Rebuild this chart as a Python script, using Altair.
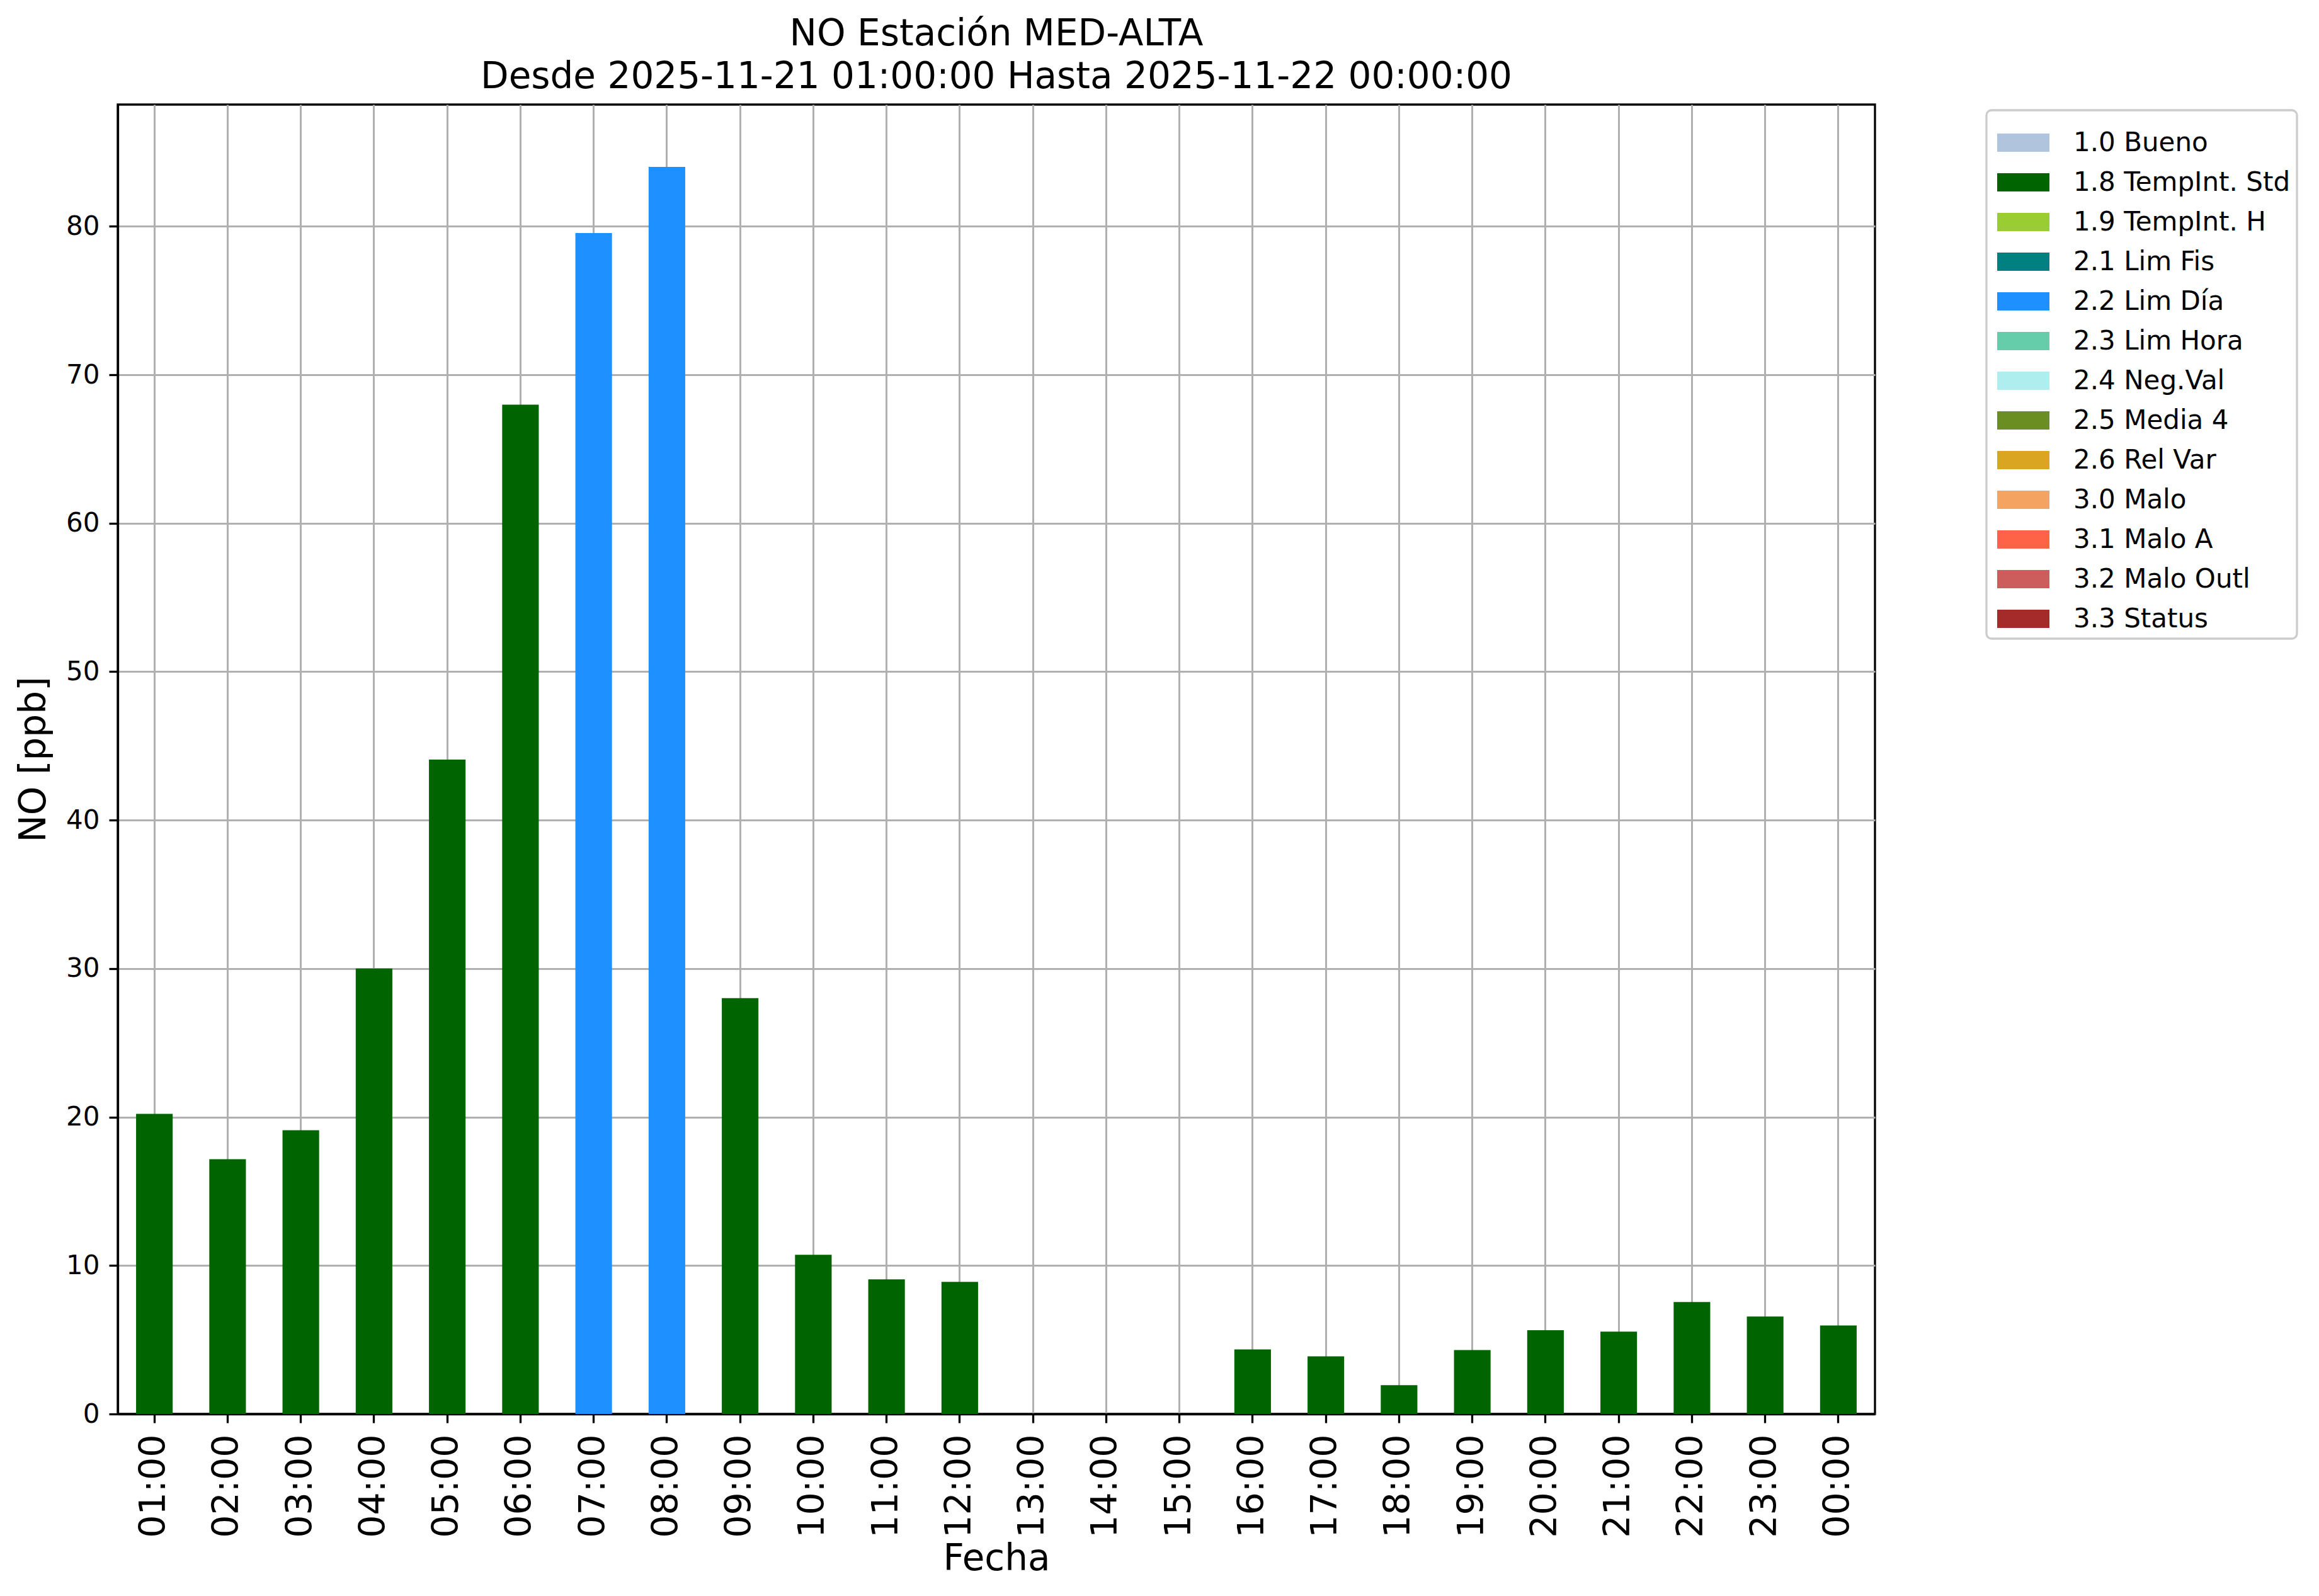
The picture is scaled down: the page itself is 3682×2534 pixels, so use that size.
import altair as alt
import pandas as pd

# ---- data ----
horas = ["01:00", "02:00", "03:00", "04:00", "05:00", "06:00", "07:00", "08:00",
         "09:00", "10:00", "11:00", "12:00", "13:00", "14:00", "15:00", "16:00",
         "17:00", "18:00", "19:00", "20:00", "21:00", "22:00", "23:00", "00:00"]
valores = [20.21, 17.16, 19.11, 30.0, 44.08, 67.98, 79.55, 84.0,
           28.01, 10.72, 9.07, 8.90, None, None, None, 4.35,
           3.88, 1.94, 4.31, 5.64, 5.55, 7.54, 6.56, 5.96]
banderas = ["1.8 TempInt. Std"] * 6 + ["2.2 Lim Día"] * 2 + ["1.8 TempInt. Std"] * 16

categorias = ["1.0 Bueno", "1.8 TempInt. Std", "1.9 TempInt. H", "2.1 Lim Fis",
              "2.2 Lim Día", "2.3 Lim Hora", "2.4 Neg.Val", "2.5 Media 4",
              "2.6 Rel Var", "3.0 Malo", "3.1 Malo A", "3.2 Malo Outl", "3.3 Status"]
colores = ["#B0C4DE", "#006400", "#9ACD32", "#008080", "#1E90FF", "#66CDAA",
           "#AFEEEE", "#6B8E23", "#DAA520", "#F4A460", "#FF6347", "#CD5C5C", "#A52A2A"]

y_ticks = [0, 10, 20, 30, 40, 50, 60, 70, 80]
y_max = 88.2

titulo = ["NO Estación MED-ALTA",
          "Desde 2025-11-21 01:00:00 Hasta 2025-11-22 00:00:00"]

df = pd.DataFrame({"Hora": horas, "NO": valores, "Flag": banderas})

FONT = "DejaVu Sans"
W, H = 2790, 2079

chart = alt.Chart(df).mark_bar().encode(
    x=alt.X(
        "Hora:N",
        sort=horas,
        scale=alt.Scale(domain=horas, paddingInner=0.5, paddingOuter=0.25),
        axis=alt.Axis(
            title="Fecha",
            labelAngle=270,
            labelFontSize=57,
            labelPadding=18,
            bandPosition=0.5,
            titleFontSize=58,
            titleX=W / 2,
            titleY=247,
            titleBaseline="alphabetic",
            titleAlign="center",
        ),
    ),
    y=alt.Y(
        "NO:Q",
        scale=alt.Scale(domain=[0, y_max], nice=False, zero=True),
        axis=alt.Axis(
            title="NO [ppb]",
            values=y_ticks,
            labelFontSize=42,
            labelPadding=15,
            titleFontSize=58,
            titleAngle=270,
            titleX=-133,
            titleY=H / 2,
            titleBaseline="middle",
            titleAlign="center",
        ),
    ),
    color=alt.Color(
        "Flag:N",
        title=None,
        scale=alt.Scale(domain=categorias, range=colores),
        legend=alt.Legend(
            orient="none",
            legendX=2967,
            legendY=9,
            symbolType="M-1,-0.35L1,-0.35L1,0.35L-1,0.35Z",
            symbolSize=6889,
            symbolStrokeWidth=0,
            symbolOpacity=1,
            symbolOffset=7,
            labelFontSize=42,
            labelFont=FONT,
            labelColor="black",
            labelOffset=38,
            labelLimit=0,
            labelExpr="datum.label + ' '",
            rowPadding=0,
            padding=10,
            strokeColor="#cccccc",
            fillColor="white",
            cornerRadius=8,
        ),
    ),
).properties(
    width=W,
    height=H,
    title=alt.TitleParams(
        text=titulo,
        fontSize=58,
        font=FONT,
        fontWeight="normal",
        anchor="middle",
        frame="group",
        lineHeight=68,
        baseline="bottom",
        offset=13,
        dy=57,
        color="black",
    ),
    autosize=alt.AutoSizeParams(type="none"),
    padding={"left": 179, "top": 158, "right": 697, "bottom": 281},
).configure(
    font=FONT,
    background="white",
).configure_view(
    stroke="black",
    strokeWidth=3.3,
).configure_axis(
    labelFont=FONT,
    titleFont=FONT,
    labelColor="black",
    titleColor="black",
    titleFontWeight="normal",
    domainColor="black",
    domainWidth=3.3,
    tickColor="black",
    tickWidth=3.3,
    tickSize=14,
    grid=True,
    gridColor="#b0b0b0",
    gridWidth=3,
    zindex=1,
).configure_legend(
    strokeWidth=3.3,
)

chart.save("out.html", embed_options={"renderer": "svg", "actions": False})
